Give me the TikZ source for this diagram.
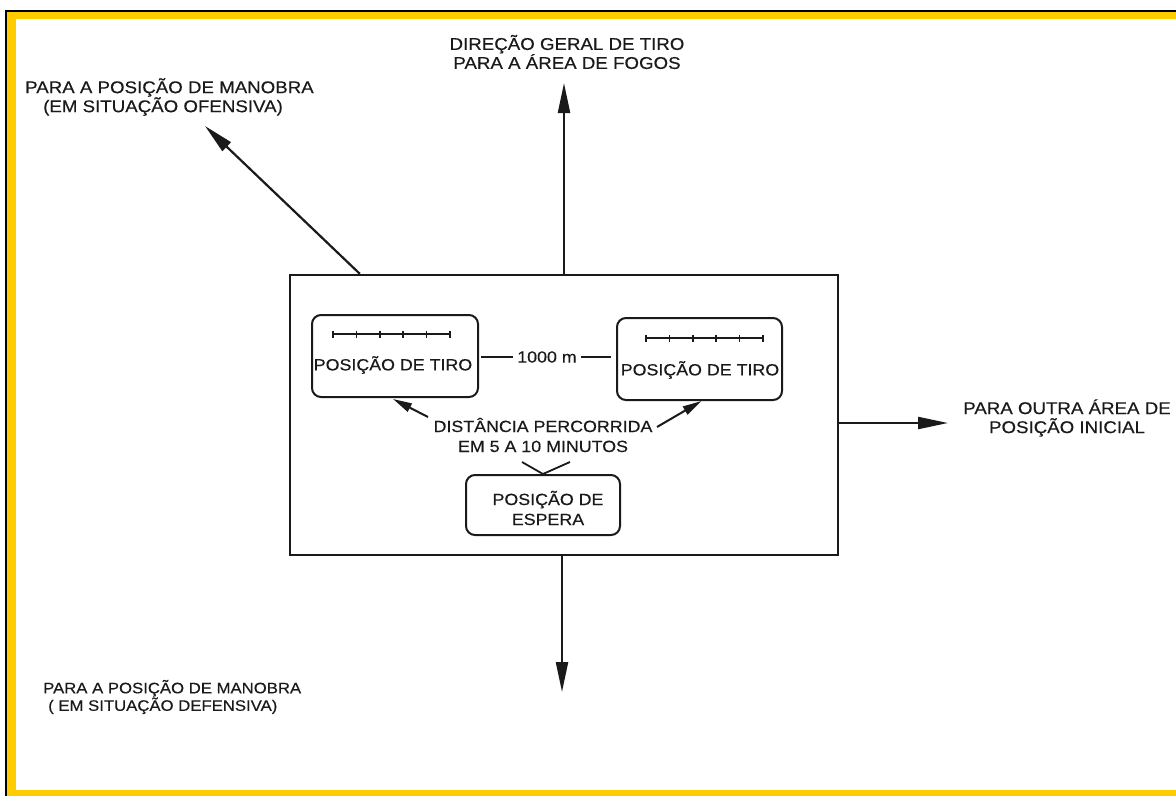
\documentclass[tikz,border=0pt]{standalone}
\usepackage{fontspec}
\setmainfont{Liberation Sans}[FakeStretch=1.1,FakeBold=0.35]
\usetikzlibrary{arrows.meta,calc}
\definecolor{bordery}{HTML}{FFCC00}
\definecolor{inkc}{HTML}{1A1A1A}
\tikzset{
  outerlbl/.style={inner sep=0pt, font=\fontsize{17}{19}\selectfont, text=inkc},
  smalllbl/.style={inner sep=0pt, font=\fontsize{15.2}{17.5}\selectfont, text=inkc},
  innerlbl/.style={inner sep=0pt, font=\fontsize{16.2}{20}\selectfont, text=inkc},
  posbox/.style={draw=inkc, line width=2pt, rounded corners=9pt, inner sep=0pt},
  mainbox/.style={draw=inkc, line width=2.4pt, inner sep=0pt, minimum width=548pt, minimum height=280pt},
  bigarrow/.style={draw=inkc, line width=2.2pt, -{Triangle[length=30pt,width=12pt]}},
  smallarrow/.style={draw=inkc, line width=2pt, -{Triangle[length=19pt,width=9pt]}},
  plainline/.style={draw=inkc, line width=1.8pt},
  scalebar/.style={draw=inkc, line width=1.5pt},
}
\begin{document}
\begin{tikzpicture}[x=1pt,y=-1pt]
\useasboundingbox (0,0) rectangle (1176,796);
\fill[white] (0,0) rectangle (1176,796);
% frame
\fill[bordery] (7,12) rectangle (1176,19);
\fill[bordery] (7,12) rectangle (16,796);
\fill[bordery] (7,790) rectangle (1176,796);
\draw[black, line width=2pt] (5.5,796) -- (5.5,10.5) -- (1176,10.5);

% main box
\node[mainbox] (main) at (564,415) {};

% firing positions
\node[posbox, minimum width=166pt, minimum height=82pt] (ltbox) at (395,356) {};
\node[innerlbl] (lttxt) at (393,365) {POSIÇÃO DE TIRO};
\node[posbox, minimum width=165pt, minimum height=82pt] (rtbox) at (699.5,359) {};
\node[innerlbl] (rttxt) at (700,370) {POSIÇÃO DE TIRO};

% scale bars
\foreach \b/\xa/\xb/\yy in {ltbox/-62/55/-22, rtbox/-53.5/63.5/-21}{
  \draw[scalebar] ($(\b.center)+(\xa,\yy)$) -- ($(\b.center)+(\xb,\yy)$);
  \foreach \i in {0,...,5}{
    \draw[scalebar] ($(\b.center)+({\xa+\i*(\xb-\xa)/5},\yy-3.5)$) -- ($(\b.center)+({\xa+\i*(\xb-\xa)/5},\yy+3.5)$);
  }
}

% 1000 m
\node[innerlbl, inner xsep=4pt] (dist) at (547,357) {1000 m};
\draw[plainline] ($(ltbox.east)+(2,1)$) -- (dist.west);
\draw[plainline] (dist.east) -- ($(rtbox.west)+(-5,-2)$);

% distance text
\node[innerlbl, align=center] (perc) at (543,435) {DISTÂNCIA PERCORRIDA\\EM 5 A 10 MINUTOS};
\coordinate (pl) at (428,417);
\coordinate (pr) at (657,427);
\draw[smallarrow] (pl) -- ($(ltbox.south)+(-2,1)$);
\draw[smallarrow] (pr) -- ($(rtbox.south)+(2,0)$);

% waiting position
\node[posbox, minimum width=154pt, minimum height=60pt] (esp) at (543,505) {};
\node[innerlbl, align=center] (esptxt) at (548,508) {POSIÇÃO DE\\ESPERA};
\coordinate (v1) at (522,462);
\coordinate (v2) at (570,462);
\draw[plainline] (v1) -- (esp.north) -- (v2);

% outgoing arrows
\coordinate (upt) at (564,83);
\draw[bigarrow] (main.north) -- (upt);
\coordinate (dnt) at (562,692);
\draw[bigarrow] (dnt |- main.south) -- (dnt);
\coordinate (dgt) at (205,126);
\draw[bigarrow] ($(main.north west)+(71,0)$) -- (dgt);
\coordinate (rgt) at (948,423);
\draw[bigarrow] (main.east |- rgt) -- (rgt);

% outer labels
\node[outerlbl, align=center] (fire) at (567,52) {DIREÇÃO GERAL DE TIRO\\PARA A ÁREA DE FOGOS};
\node[outerlbl, align=left, anchor=west] (ofens) at (25,97) {PARA A POSIÇÃO DE MANOBRA\\\hspace*{18pt}(EM SITUAÇÃO OFENSIVA)};
\node[outerlbl, align=center] (outra) at (1067,418) {PARA OUTRA ÁREA DE\\POSIÇÃO INICIAL};
\node[smalllbl, align=left, anchor=west] (defens) at (43,697) {PARA A POSIÇÃO DE MANOBRA\\\hspace*{5pt}( EM SITUAÇÃO DEFENSIVA)};
\end{tikzpicture}
\end{document}
